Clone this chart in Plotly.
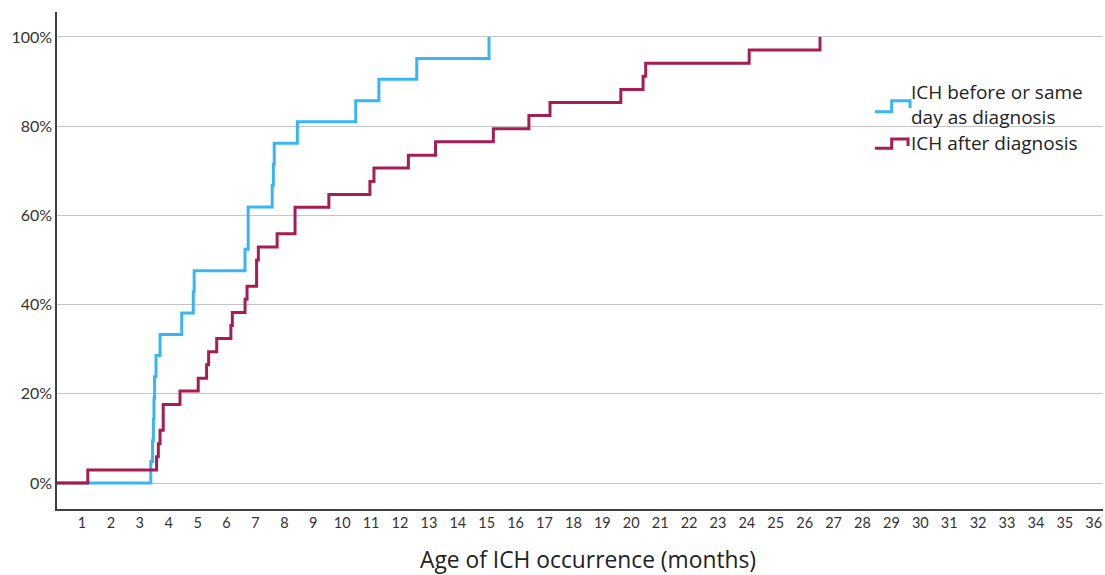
import plotly.graph_objects as go

# Event times (months) and cumulative percentage of ICH occurrence
before_months = [0, 3.38, 3.44, 3.47, 3.49, 3.51, 3.56, 3.70, 4.45, 4.85, 4.88, 6.64, 6.75,
                 7.58, 7.62, 7.65, 8.45, 10.47, 11.27, 12.58, 15.08]
before_pct = [0, 4.8, 9.5, 14.3, 19.0, 23.8, 28.6, 33.3, 38.1, 42.9, 47.6, 52.4, 61.9,
              66.7, 71.4, 76.2, 81.0, 85.7, 90.5, 95.2, 100]

after_months = [0, 1.20, 3.58, 3.64, 3.70, 3.81, 4.39, 5.02, 5.31, 5.38, 5.66, 6.15, 6.20,
                6.64, 6.71, 7.04, 7.10, 7.75, 8.37, 9.54, 10.96, 11.10, 12.29, 13.23,
                15.23, 16.46, 17.19, 19.64, 20.41, 20.50, 24.08, 26.53]
after_pct = [0, 2.9, 5.9, 8.8, 11.8, 17.6, 20.6, 23.5, 26.5, 29.4, 32.4, 35.3, 38.2,
             41.2, 44.1, 50.0, 52.9, 55.9, 61.8, 64.7, 67.6, 70.6, 73.5, 76.5,
             79.4, 82.4, 85.3, 88.2, 91.2, 94.1, 97.1, 100]

x_ticks = list(range(1, 37))
y_ticks = [0, 20, 40, 60, 80, 100]

series_names = ["ICH before or same<br>day as diagnosis", "ICH after diagnosis"]
BLUE = "#38B6F4"
RED = "#A51D52"
FONT = "Lato, 'Open Sans', sans-serif"
FONT2 = "'Open Sans', Lato, sans-serif"

W, H = 1105, 575
L, T, R_EDGE, B_EDGE = 57, 12, 1103, 509

fig = go.Figure()
fig.add_trace(go.Scatter(x=before_months, y=before_pct, mode="lines", line_shape="hv",
                         line=dict(color=BLUE, width=3), name="before"))
fig.add_trace(go.Scatter(x=after_months, y=after_pct, mode="lines", line_shape="hv",
                         line=dict(color=RED, width=3), name="after"))

fig.update_layout(
    width=W, height=H,
    margin=dict(l=L, r=W - R_EDGE, t=T, b=H - B_EDGE, autoexpand=False),
    paper_bgcolor="white", plot_bgcolor="white",
    showlegend=False,
    font=dict(family=FONT, color="#333333"),
)
fig.update_xaxes(range=[0.135, 36.32], tickmode="array", tickvals=x_ticks,
                 ticktext=[str(t) for t in x_ticks], showgrid=False, zeroline=False,
                 showline=True, linecolor="#404040", linewidth=1.5, ticks="",
                 tickfont=dict(size=14.5, color="#333333"), automargin=False)
fig.update_yaxes(range=[-5.83, 105.6], tickmode="array", tickvals=y_ticks,
                 ticktext=[f"{t}%" for t in y_ticks], showgrid=True, gridcolor="#C4C4C4",
                 gridwidth=1.2, zeroline=False, showline=True, linecolor="#404040",
                 linewidth=1.5, ticks="", tickfont=dict(size=16, color="#333333"),
                 automargin=False)

pw = R_EDGE - L
ph = B_EDGE - T

def px_x(px):
    return (px - L) / pw

def px_y(py):
    return (B_EDGE - py) / ph

# Axis title
fig.add_annotation(text="Age of ICH occurrence (months)", xref="paper", yref="paper",
                   x=px_x(588), y=px_y(559), xanchor="center", yanchor="middle", showarrow=False,
                   font=dict(size=22.8, color="#222222", family=FONT2))

# Custom legend with step-shaped symbols
def step_path(pts):
    return "M " + " L ".join(f"{px_x(a):.4f},{px_y(b):.4f}" for a, b in pts)

fig.add_shape(type="path", xref="paper", yref="paper",
              path=step_path([(875, 111.7), (891.7, 111.7), (891.7, 100.7), (910, 100.7), (910, 108)]),
              line=dict(color=BLUE, width=3))
fig.add_shape(type="path", xref="paper", yref="paper",
              path=step_path([(875, 148.3), (891.7, 148.3), (891.7, 139), (908, 139), (908, 146)]),
              line=dict(color=RED, width=3))
fig.add_annotation(text=series_names[0], xref="paper", yref="paper", x=px_x(909), y=px_y(104),
                   xanchor="left", yanchor="middle", align="left", showarrow=False,
                   font=dict(size=19, color="#222222", family=FONT2))
fig.add_annotation(text=series_names[1], xref="paper", yref="paper", x=px_x(909), y=px_y(143),
                   xanchor="left", yanchor="middle", align="left", showarrow=False,
                   font=dict(size=19, color="#222222", family=FONT2))

fig.write_html("out.html", config={"displayModeBar": False},
               post_script="document.body.style.margin='0px';document.body.style.overflow='hidden';")
